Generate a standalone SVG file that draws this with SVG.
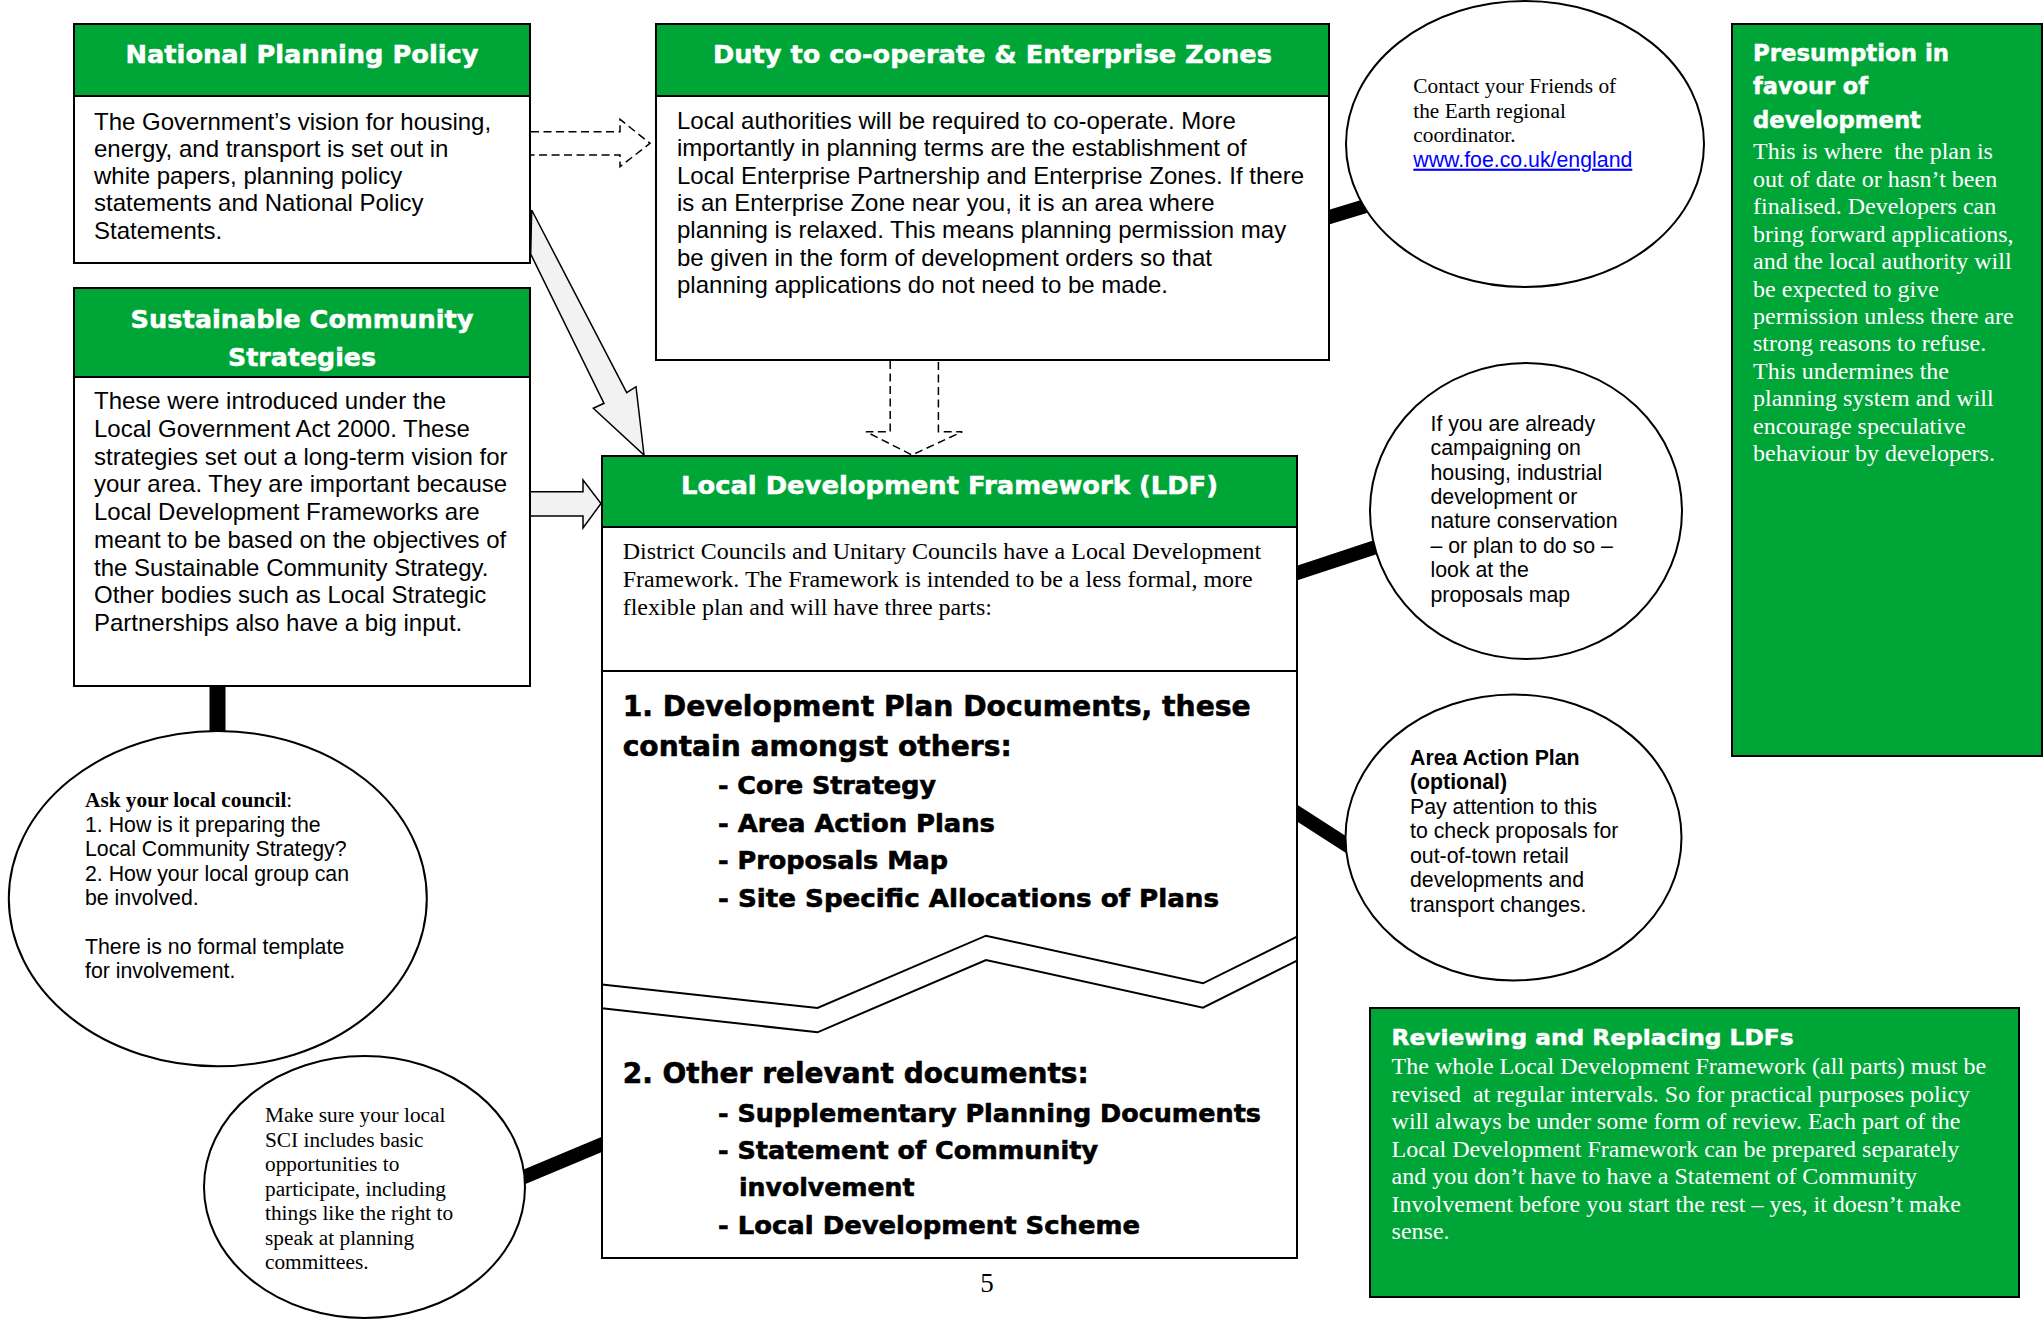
<svg xmlns="http://www.w3.org/2000/svg" width="2044" height="1319" viewBox="0 0 2044 1319">
<style>
.box{fill:#fff;stroke:#000;stroke-width:2}
.hdr{fill:#00a538;stroke:#000;stroke-width:2}
.ell{fill:#fff;stroke:#000;stroke-width:2}
.ht{font-family:"DejaVu Sans",sans-serif;font-weight:bold;fill:#fff;stroke:#fff;stroke-width:0.5}
.hd{font-family:"DejaVu Sans",sans-serif;font-weight:bold;fill:#000;stroke:#000;stroke-width:0.6}
.sans{font-family:"Liberation Sans",Arial,sans-serif;fill:#000}
.serif{font-family:"Liberation Serif","Times New Roman",serif;fill:#000}
.wserif{font-family:"Liberation Serif","Times New Roman",serif;fill:#fff}
.conn{stroke:#000;stroke-width:14;fill:none}
.block{fill:#f2f2f2;stroke:#000;stroke-width:1.5;stroke-linejoin:miter}
.dash{fill:none;stroke:#000;stroke-width:1.5;stroke-dasharray:8 4.5}
.zig{fill:none;stroke:#000;stroke-width:2}
</style>

<g id="connectors">
  <line id="c-scs-ask" class="conn" x1="217.5" y1="680" x2="217.5" y2="745" style="stroke-width:16"/>
  <line id="c-sci-ldf" class="conn" x1="512" y1="1182" x2="610" y2="1141"/>
  <line id="c-dtc-foe" class="conn" x1="1318" y1="220.5" x2="1378" y2="202.3"/>
  <line id="c-ldf-ifyou" class="conn" x1="1290" y1="575.3" x2="1385" y2="544"/>
  <line id="c-ldf-aap" class="conn" x1="1290" y1="808.5" x2="1356" y2="851"/>
  <polygon id="a-npp-ldf" class="block" points="531.7,210 626.7,392.7 636,386.7 644,455 593.3,408.3 604,403.3 530.7,254"/>
  <polygon id="a-scs-ldf" class="block" points="525,491.7 583,491.7 583,480 601,503.5 583,528 583,516 525,516"/>
  <path id="a-npp-dtc" class="dash" d="M531,131.7 H620 V119.3 L650,143.3 L620,166.7 V155 H531"/>
  <path id="a-dtc-ldf" class="dash" d="M890.2,361 V431.7 H866 L912,455 L962.3,431.7 H938.4 V361"/>
</g>

<g id="national-planning-policy">
  <rect class="box" x="74" y="24" width="456" height="239"/>
  <rect class="hdr" x="74" y="24" width="456" height="72"/>
  <text class="ht" x="302" y="63" font-size="25" text-anchor="middle" textLength="353" lengthAdjust="spacingAndGlyphs">National Planning Policy</text>
  <text class="sans" font-size="24">
    <tspan x="94" y="129.5">The Government’s vision for housing,</tspan>
    <tspan x="94" y="156.8">energy, and transport is set out in</tspan>
    <tspan x="94" y="184.1">white papers, planning policy</tspan>
    <tspan x="94" y="211.4">statements and National Policy</tspan>
    <tspan x="94" y="238.7">Statements.</tspan>
  </text>
</g>

<g id="duty-to-cooperate">
  <rect class="box" x="656" y="24" width="673" height="336"/>
  <rect class="hdr" x="656" y="24" width="673" height="72"/>
  <text class="ht" x="992.5" y="63" font-size="25" text-anchor="middle" textLength="559" lengthAdjust="spacingAndGlyphs">Duty to co-operate &amp; Enterprise Zones</text>
  <text class="sans" font-size="24">
    <tspan x="677" y="129">Local authorities will be required to co-operate. More</tspan>
    <tspan x="677" y="156.3">importantly in planning terms are the establishment of</tspan>
    <tspan x="677" y="183.6">Local Enterprise Partnership and Enterprise Zones. If there</tspan>
    <tspan x="677" y="210.9">is an Enterprise Zone near you, it is an area where</tspan>
    <tspan x="677" y="238.2">planning is relaxed. This means planning permission may</tspan>
    <tspan x="677" y="265.5">be given in the form of development orders so that</tspan>
    <tspan x="677" y="292.8">planning applications do not need to be made.</tspan>
  </text>
</g>

<g id="sustainable-community-strategies">
  <rect class="box" x="74" y="288" width="456" height="398"/>
  <rect class="hdr" x="74" y="288" width="456" height="89"/>
  <text class="ht" x="302" y="328.3" font-size="25" text-anchor="middle" textLength="343" lengthAdjust="spacingAndGlyphs">Sustainable Community</text>
  <text class="ht" x="302" y="366" font-size="25" text-anchor="middle" textLength="148" lengthAdjust="spacingAndGlyphs">Strategies</text>
  <text class="sans" font-size="24">
    <tspan x="94" y="409.3">These were introduced under the</tspan>
    <tspan x="94" y="437">Local Government Act 2000. These</tspan>
    <tspan x="94" y="464.7">strategies set out a long-term vision for</tspan>
    <tspan x="94" y="492.4">your area. They are important because</tspan>
    <tspan x="94" y="520.1">Local Development Frameworks are</tspan>
    <tspan x="94" y="547.8">meant to be based on the objectives of</tspan>
    <tspan x="94" y="575.5">the Sustainable Community Strategy.</tspan>
    <tspan x="94" y="603.2">Other bodies such as Local Strategic</tspan>
    <tspan x="94" y="630.9">Partnerships also have a big input.</tspan>
  </text>
</g>

<g id="local-development-framework">
  <rect class="box" x="602" y="456" width="695" height="802"/>
  <rect class="hdr" x="602" y="456" width="695" height="71"/>
  <text class="ht" x="949.5" y="494" font-size="25" text-anchor="middle" textLength="537" lengthAdjust="spacingAndGlyphs">Local Development Framework (LDF)</text>
  <text class="serif" font-size="24">
    <tspan x="622.7" y="559.3">District Councils and Unitary Councils have a Local Development</tspan>
    <tspan x="622.7" y="587.3">Framework. The Framework is intended to be a less formal, more</tspan>
    <tspan x="622.7" y="615.3">flexible plan and will have three parts:</tspan>
  </text>
  <line x1="602" y1="671" x2="1297" y2="671" stroke="#000" stroke-width="2"/>
  <text class="hd" x="622.7" y="716" font-size="29" textLength="628" lengthAdjust="spacingAndGlyphs">1. Development Plan Documents, these</text>
  <text class="hd" x="622.7" y="756" font-size="29" textLength="389" lengthAdjust="spacingAndGlyphs">contain amongst others:</text>
  <text class="hd" x="718" y="794.3" font-size="24.5" textLength="218" lengthAdjust="spacingAndGlyphs">- Core Strategy</text>
  <text class="hd" x="718" y="831.7" font-size="24.5" textLength="277" lengthAdjust="spacingAndGlyphs">- Area Action Plans</text>
  <text class="hd" x="718" y="869.3" font-size="24.5" textLength="230" lengthAdjust="spacingAndGlyphs">- Proposals Map</text>
  <text class="hd" x="718" y="906.7" font-size="24.5" textLength="501" lengthAdjust="spacingAndGlyphs">- Site Specific Allocations of Plans</text>
  <polyline class="zig" points="602,984.5 817.5,1008 986,935.7 1203,983.3 1297,936.7"/>
  <polyline class="zig" points="602,1008.3 817.5,1032.3 986,960 1203,1007.7 1297,960.7"/>
  <text class="hd" x="622.7" y="1083.3" font-size="29" textLength="466" lengthAdjust="spacingAndGlyphs">2. Other relevant documents:</text>
  <text class="hd" x="718" y="1121.7" font-size="24.5" textLength="543" lengthAdjust="spacingAndGlyphs">- Supplementary Planning Documents</text>
  <text class="hd" x="718" y="1159.3" font-size="24.5" textLength="380" lengthAdjust="spacingAndGlyphs">- Statement of Community</text>
  <text class="hd" x="739" y="1196" font-size="24.5" textLength="175.5" lengthAdjust="spacingAndGlyphs">involvement</text>
  <text class="hd" x="718" y="1234" font-size="24.5" textLength="422" lengthAdjust="spacingAndGlyphs">- Local Development Scheme</text>
</g>

<g id="ask-your-council">
  <ellipse class="ell" cx="217.8" cy="898.6" rx="209" ry="167.6"/>
  <text class="serif" font-size="21.3" x="85" y="807"><tspan font-weight="bold">Ask your local council</tspan>:</text>
  <text class="sans" font-size="21.3">
    <tspan x="85" y="831.6">1. How is it preparing the</tspan>
    <tspan x="85" y="856">Local Community Strategy?</tspan>
    <tspan x="85" y="880.5">2. How your local group can</tspan>
    <tspan x="85" y="905">be involved.</tspan>
    <tspan x="85" y="953.8">There is no formal template</tspan>
    <tspan x="85" y="978.3">for involvement.</tspan>
  </text>
</g>

<g id="sci-note">
  <ellipse class="ell" cx="364.5" cy="1187" rx="160.5" ry="131"/>
  <text class="serif" font-size="21.3">
    <tspan x="265" y="1122">Make sure your local</tspan>
    <tspan x="265" y="1146.5">SCI includes basic</tspan>
    <tspan x="265" y="1171">opportunities to</tspan>
    <tspan x="265" y="1195.5">participate, including</tspan>
    <tspan x="265" y="1220">things like the right to</tspan>
    <tspan x="265" y="1244.5">speak at planning</tspan>
    <tspan x="265" y="1269">committees.</tspan>
  </text>
</g>

<g id="foe-contact">
  <ellipse class="ell" cx="1525" cy="144" rx="179" ry="143"/>
  <text class="serif" font-size="21.3">
    <tspan x="1413.3" y="92.7">Contact your Friends of</tspan>
    <tspan x="1413.3" y="117.5">the Earth regional</tspan>
    <tspan x="1413.3" y="142.3">coordinator.</tspan>
  </text>
  <text class="sans" font-size="21.3" x="1413.3" y="166.7" style="fill:#0000ff" text-decoration="underline">www.foe.co.uk/england</text>
</g>

<g id="proposals-map-note">
  <ellipse class="ell" cx="1526" cy="511" rx="156" ry="148"/>
  <text class="sans" font-size="21.3">
    <tspan x="1430.5" y="430.8">If you are already</tspan>
    <tspan x="1430.5" y="455.2">campaigning on</tspan>
    <tspan x="1430.5" y="479.6">housing, industrial</tspan>
    <tspan x="1430.5" y="504">development or</tspan>
    <tspan x="1430.5" y="528.4">nature conservation</tspan>
    <tspan x="1430.5" y="552.8">– or plan to do so –</tspan>
    <tspan x="1430.5" y="577.2">look at the</tspan>
    <tspan x="1430.5" y="601.6">proposals map</tspan>
  </text>
</g>

<g id="area-action-plan-note">
  <ellipse class="ell" cx="1513.5" cy="837.5" rx="168" ry="143"/>
  <text class="sans" font-size="21.3">
    <tspan x="1410" y="764.5" font-weight="bold">Area Action Plan</tspan>
    <tspan x="1410" y="789" font-weight="bold">(optional)</tspan>
    <tspan x="1410" y="813.5">Pay attention to this</tspan>
    <tspan x="1410" y="838">to check proposals for</tspan>
    <tspan x="1410" y="862.5">out-of-town retail</tspan>
    <tspan x="1410" y="887">developments and</tspan>
    <tspan x="1410" y="911.5">transport changes.</tspan>
  </text>
</g>

<g id="presumption-in-favour">
  <rect class="hdr" x="1732" y="24" width="310" height="732"/>
  <text class="ht" x="1753" y="61" font-size="23" textLength="196" lengthAdjust="spacingAndGlyphs">Presumption in</text>
  <text class="ht" x="1753" y="94.3" font-size="23" textLength="115" lengthAdjust="spacingAndGlyphs">favour of</text>
  <text class="ht" x="1753" y="128.3" font-size="23" textLength="168" lengthAdjust="spacingAndGlyphs">development</text>
  <text class="wserif" font-size="24" xml:space="preserve"><tspan x="1753" y="159.3">This is where  the plan is</tspan><tspan x="1753" y="186.75">out of date or hasn’t been</tspan><tspan x="1753" y="214.2">finalised. Developers can</tspan><tspan x="1753" y="241.65">bring forward applications,</tspan><tspan x="1753" y="269.1">and the local authority will</tspan><tspan x="1753" y="296.55">be expected to give</tspan><tspan x="1753" y="324">permission unless there are</tspan><tspan x="1753" y="351.45">strong reasons to refuse.</tspan><tspan x="1753" y="378.9">This undermines the</tspan><tspan x="1753" y="406.35">planning system and will</tspan><tspan x="1753" y="433.8">encourage speculative</tspan><tspan x="1753" y="461.25">behaviour by developers.</tspan></text>
</g>

<g id="reviewing-replacing">
  <rect class="hdr" x="1370" y="1008" width="649" height="289"/>
  <text class="ht" x="1391.6" y="1045" font-size="22" textLength="402" lengthAdjust="spacingAndGlyphs">Reviewing and Replacing LDFs</text>
  <text class="wserif" font-size="24" xml:space="preserve"><tspan x="1391.6" y="1074.3">The whole Local Development Framework (all parts) must be</tspan><tspan x="1391.6" y="1101.8">revised  at regular intervals. So for practical purposes policy</tspan><tspan x="1391.6" y="1129.3">will always be under some form of review. Each part of the</tspan><tspan x="1391.6" y="1156.8">Local Development Framework can be prepared separately</tspan><tspan x="1391.6" y="1184.3">and you don’t have to have a Statement of Community</tspan><tspan x="1391.6" y="1211.8">Involvement before you start the rest – yes, it doesn’t make</tspan><tspan x="1391.6" y="1239.3">sense.</tspan></text>
</g>

<text id="page-number" class="serif" x="987" y="1292" font-size="27" text-anchor="middle">5</text>
</svg>
